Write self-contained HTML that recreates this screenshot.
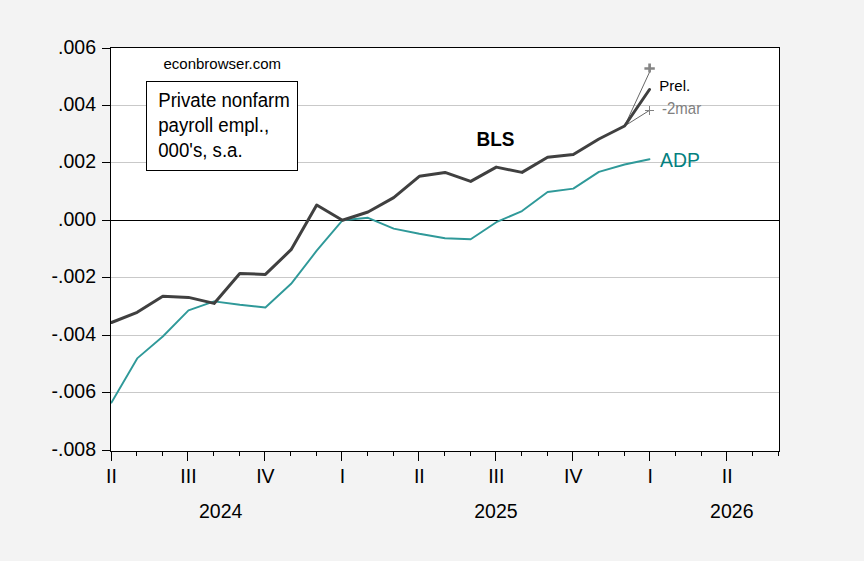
<!DOCTYPE html>
<html><head><meta charset="utf-8"><title>chart</title>
<style>
html,body{margin:0;padding:0;}
body{width:864px;height:561px;background:#f3f3f3;overflow:hidden;position:relative;font-family:"Liberation Sans",sans-serif;color:#000;}
svg{position:absolute;left:0;top:0;}
.t{position:absolute;white-space:nowrap;line-height:1;}
.yl{font-size:19.5px;right:768px;text-align:right;}
.xl{font-size:19.5px;transform:translateX(-50%);}
</style></head><body>
<svg width="864" height="561" viewBox="0 0 864 561">
<rect x="110.5" y="47.5" width="669" height="404" fill="#fff" stroke="none"/>
<rect x="111" y="105" width="668" height="1" fill="#c9c9c9"/>
<rect x="111" y="162" width="668" height="1" fill="#c9c9c9"/>
<rect x="111" y="277" width="668" height="1" fill="#c9c9c9"/>
<rect x="111" y="335" width="668" height="1" fill="#c9c9c9"/>
<rect x="111" y="392" width="668" height="1" fill="#c9c9c9"/>
<rect x="111" y="220" width="668" height="1" fill="#000"/>
<polyline points="111.5,402.6 137.2,358.4 162.8,336.5 188.5,310.4 214.1,301.4 239.8,304.8 265.4,307.5 291.1,283.8 316.7,250.7 342.4,220.3 368.0,217.8 393.7,228.6 419.3,233.8 445.0,238.2 470.7,239.3 496.3,222.2 522.0,211.1 547.6,192.0 573.3,188.6 598.9,171.9 624.6,164.5 649.5,159.2" fill="none" stroke="#2f9999" stroke-width="1.9" stroke-linejoin="round" stroke-linecap="round"/>
<line x1="624.6" y1="126" x2="649.6" y2="72" stroke="#555" stroke-width="0.9"/>
<line x1="624.6" y1="126" x2="649.6" y2="110.3" stroke="#555" stroke-width="0.9"/>
<polyline points="111.5,322.5 137.2,312.3 162.8,296.3 188.5,297.4 214.1,303.4 239.8,273.4 265.4,274.4 291.1,249.7 316.7,205.0 342.4,220.3 368.0,212.0 393.7,197.6 419.3,176.3 445.0,172.4 470.7,181.4 496.3,167.1 522.0,172.4 547.6,157.3 573.3,154.5 598.9,139.0 624.6,126.0 649.5,89.5" fill="none" stroke="#404040" stroke-width="3" stroke-linejoin="round" stroke-linecap="round"/>
<path d="M644.4 68.5H654.8M649.6 63.5V72.6" stroke="#858585" stroke-width="2.7" fill="none"/>
<path d="M645 110.5H654M649.5 106V115" stroke="#808080" stroke-width="1" fill="none"/>
<g shape-rendering="crispEdges" fill="#000">
<rect x="110" y="47" width="670" height="1"/>
<rect x="110" y="451" width="670" height="1"/>
<rect x="110" y="47" width="1" height="405"/>
<rect x="779" y="47" width="1" height="405"/>
<rect x="102" y="48" width="8" height="1"/>
<rect x="102" y="105" width="8" height="1"/>
<rect x="102" y="162" width="8" height="1"/>
<rect x="102" y="220" width="8" height="1"/>
<rect x="102" y="277" width="8" height="1"/>
<rect x="102" y="335" width="8" height="1"/>
<rect x="102" y="392" width="8" height="1"/>
<rect x="102" y="450" width="8" height="1"/>
<rect x="111" y="452" width="1" height="9"/>
<rect x="136" y="452" width="1" height="4"/>
<rect x="162" y="452" width="1" height="4"/>
<rect x="187" y="452" width="1" height="9"/>
<rect x="213" y="452" width="1" height="4"/>
<rect x="239" y="452" width="1" height="4"/>
<rect x="264" y="452" width="1" height="9"/>
<rect x="290" y="452" width="1" height="4"/>
<rect x="316" y="452" width="1" height="4"/>
<rect x="341" y="452" width="1" height="9"/>
<rect x="367" y="452" width="1" height="4"/>
<rect x="393" y="452" width="1" height="4"/>
<rect x="418" y="452" width="1" height="9"/>
<rect x="444" y="452" width="1" height="4"/>
<rect x="470" y="452" width="1" height="4"/>
<rect x="495" y="452" width="1" height="9"/>
<rect x="521" y="452" width="1" height="4"/>
<rect x="547" y="452" width="1" height="4"/>
<rect x="572" y="452" width="1" height="9"/>
<rect x="598" y="452" width="1" height="4"/>
<rect x="624" y="452" width="1" height="4"/>
<rect x="649" y="452" width="1" height="9"/>
<rect x="675" y="452" width="1" height="4"/>
<rect x="701" y="452" width="1" height="4"/>
<rect x="726" y="452" width="1" height="9"/>
<rect x="752" y="452" width="1" height="4"/>
<rect x="778" y="452" width="1" height="4"/>
</g>
<rect x="146.5" y="81.5" width="151" height="89" fill="#fff" stroke="#000" stroke-width="1" shape-rendering="crispEdges"/>
</svg>
<div class="t yl" style="top:37.5px">.006</div>
<div class="t yl" style="top:94.5px">.004</div>
<div class="t yl" style="top:151.5px">.002</div>
<div class="t yl" style="top:209.5px">.000</div>
<div class="t yl" style="top:266.5px">-.002</div>
<div class="t yl" style="top:324.5px">-.004</div>
<div class="t yl" style="top:381.5px">-.006</div>
<div class="t yl" style="top:439.5px">-.008</div>
<div class="t xl" style="left:111.5px;top:466.5px">II</div>
<div class="t xl" style="left:188.5px;top:466.5px">III</div>
<div class="t xl" style="left:265.4px;top:466.5px">IV</div>
<div class="t xl" style="left:342.4px;top:466.5px">I</div>
<div class="t xl" style="left:419.3px;top:466.5px">II</div>
<div class="t xl" style="left:496.3px;top:466.5px">III</div>
<div class="t xl" style="left:573.3px;top:466.5px">IV</div>
<div class="t xl" style="left:650.2px;top:466.5px">I</div>
<div class="t xl" style="left:727.2px;top:466.5px">II</div>
<div class="t xl" style="left:220.7px;top:501.5px">2024</div>
<div class="t xl" style="left:495.9px;top:501.5px">2025</div>
<div class="t xl" style="left:731.8px;top:501.5px">2026</div>
<div class="t" style="left:163.5px;top:56px;font-size:15px">econbrowser.com</div>
<div class="t" style="left:158.2px;top:91.4px;font-size:18.67px;transform:scaleY(1.05);transform-origin:0 0">Private nonfarm</div>
<div class="t" style="left:158.2px;top:116.0px;font-size:18.67px;transform:scaleY(1.05);transform-origin:0 0">payroll empl.,</div>
<div class="t" style="left:158.2px;top:141.4px;font-size:18.67px;transform:scaleY(1.05);transform-origin:0 0">000's, s.a.</div>
<div class="t" style="left:476.5px;top:129px;font-size:19px;font-weight:bold;transform:scaleY(1.05);transform-origin:0 0">BLS</div>
<div class="t" style="left:660px;top:150.5px;font-size:19.4px;color:#047f7f">ADP</div>
<div class="t" style="left:659.3px;top:78px;font-size:15px">Prel.</div>
<div class="t" style="left:662px;top:100px;font-size:15px;color:#808080;transform:scaleY(1.09);transform-origin:0 0">-2mar</div>
</body></html>
